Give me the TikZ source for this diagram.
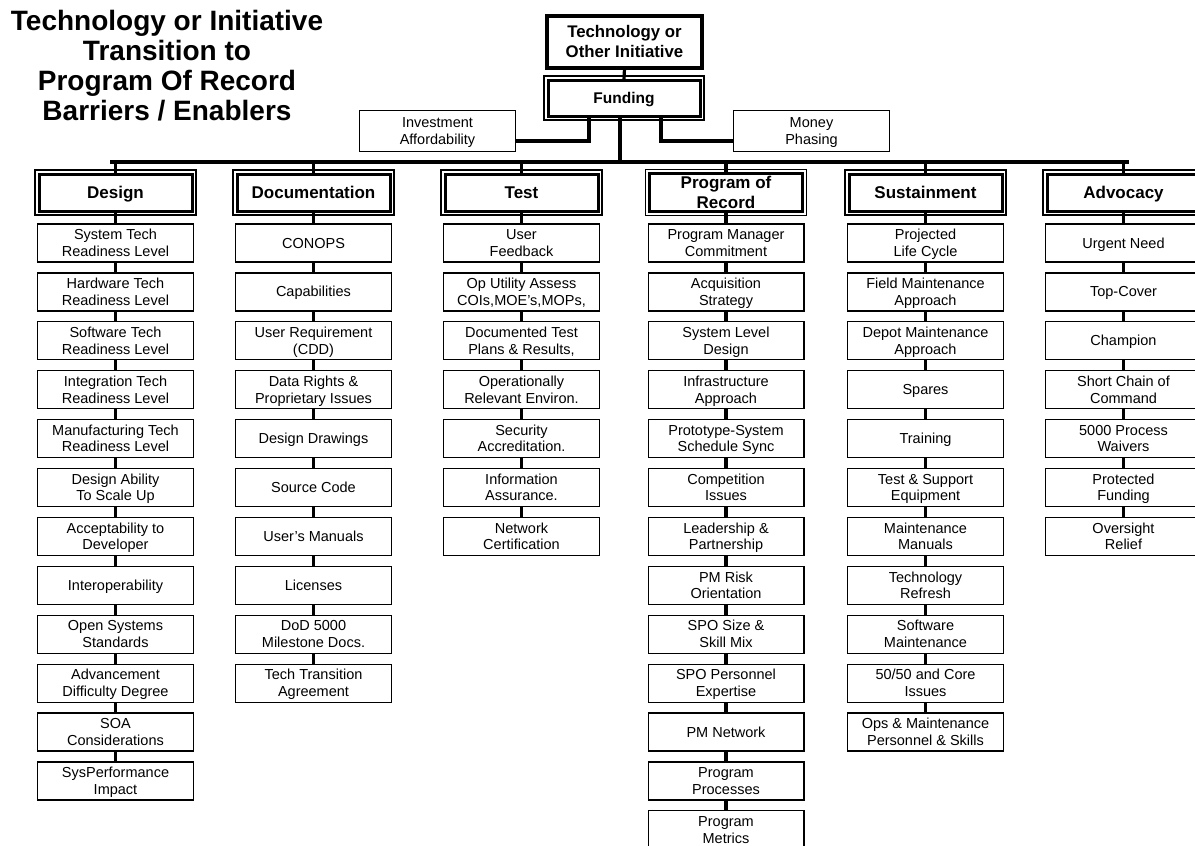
\documentclass[tikz,border=0pt]{standalone}
\usepackage{fontspec}
\setmainfont{Liberation Sans}
\usetikzlibrary{backgrounds}
\newcommand\capstrut{\rule[-0.2em]{0pt}{1.1em}}
\newcommand\st[1]{\capstrut#1\capstrut}
\tikzset{
  item/.style={draw, line width=1.2pt, fill=white, minimum width=155.8pt, minimum height=38pt,
    inner sep=0pt, outer sep=0pt, align=center, font=\fontsize{14.5}{16.6}\selectfont},
  hdr/.style={draw, line width=3pt, fill=white, minimum width=153pt, minimum height=37pt,
    inner sep=0pt, outer sep=0pt, align=center, font=\bfseries\fontsize{17}{18}\selectfont},
  frame/.style={line width=1.2pt},
  conn/.style={line width=3.2pt},
  topbox/.style={draw, line width=4pt, fill=white, minimum width=155pt, minimum height=52pt,
    inner sep=0pt, outer sep=0pt, align=center, font=\bfseries\fontsize{16.8}{20}\selectfont},
}
\newcommand\hdrframe[1]{\draw[frame] ([shift={(-4,-4)}]#1.north west) rectangle ([shift={(4,4)}]#1.south east);}
\newcommand\mycolumn[4]{%
  \node[hdr] (#1h) at (#2,192.5) {\st{#3}};
  \hdrframe{#1h}
  \begin{pgfonlayer}{background}
    \draw[conn] (#1h.north) -- (#1h.north |- bus);
  \end{pgfonlayer}
  \foreach \t [count=\i] in {#4} {
    \node[item] (#1\i) at (#2,{243+(\i-1)*48.9}) {\st{\t}};
    \pgfmathtruncatemacro\j{\i-1}
    \begin{pgfonlayer}{background}
      \ifnum\i=1 \draw[conn] (#1h.south) -- (#1\i.north);
      \else \draw[conn] (#1\j.south) -- (#1\i.north); \fi
    \end{pgfonlayer}
  }
}
\begin{document}
\begin{tikzpicture}[x=1pt,y=-1pt]
\useasboundingbox (0,0) rectangle (1195,846);
\coordinate (bus) at (0,162);

% title
\node[align=center, font=\bfseries\fontsize{28}{30}\selectfont] (title) at (167,66)
  {Technology or Initiative\\Transition to\\Program Of Record\\Barriers / Enablers};

% top
\node[topbox] (top) at (624.5,42) {\st{Technology or\\Other Initiative}};
\node[hdr, minimum width=152pt, minimum height=36pt, font=\bfseries\fontsize{15.5}{18}\selectfont] (fund) at (624,98) {\st{Funding}};
\hdrframe{fund}
\node[item, minimum height=40.8pt] (inv) at (437.5,131) {\st{Investment\\Affordability}};
\node[item, minimum height=40.8pt] (money) at (811.5,131) {\st{Money\\Phasing}};

\begin{pgfonlayer}{background}
  \draw[conn] (top.south) -- (fund.north);
  \draw[conn] ([shift={(-4,0)}]fund.south) -- ([shift={(-4,0)}]fund.south |- bus);
  \draw[conn] ([shift={(-35,0)}]fund.south) |- ([shift={(0,10)}]inv.east);
  \draw[conn] ([shift={(37,0)}]fund.south) |- ([shift={(0,10)}]money.west);
\end{pgfonlayer}

\mycolumn{d}{115.5}{Design}{
  {System Tech\\Readiness Level},
  {Hardware Tech\\Readiness Level},
  {Software Tech\\Readiness Level},
  {Integration Tech\\Readiness Level},
  {Manufacturing Tech\\Readiness Level},
  {Design Ability\\To Scale Up},
  {Acceptability to\\Developer},
  {Interoperability},
  {Open Systems\\Standards},
  {Advancement\\Difficulty Degree},
  {SOA\\Considerations},
  {SysPerformance\\Impact}}
\mycolumn{o}{313.5}{Documentation}{
  {CONOPS},
  {Capabilities},
  {User Requirement\\(CDD)},
  {Data Rights \&\\Proprietary Issues},
  {Design Drawings},
  {Source Code},
  {User’s Manuals},
  {Licenses},
  {DoD 5000\\Milestone Docs.},
  {Tech Transition\\Agreement}}
\mycolumn{t}{521.5}{Test}{
  {User\\Feedback},
  {Op Utility Assess\\COIs,MOE’s,MOPs,},
  {Documented Test\\Plans \& Results,},
  {Operationally\\Relevant Environ.},
  {Security\\Accreditation.},
  {Information\\Assurance.},
  {Network\\Certification}}
\mycolumn{p}{726}{Program of\\Record}{
  {Program Manager\\Commitment},
  {Acquisition\\Strategy},
  {System Level\\Design},
  {Infrastructure\\Approach},
  {Prototype-System\\Schedule Sync},
  {Competition\\Issues},
  {Leadership \&\\Partnership},
  {PM Risk\\Orientation},
  {SPO Size \&\\Skill Mix},
  {SPO Personnel\\Expertise},
  {PM Network},
  {Program\\Processes},
  {Program\\Metrics}}
\mycolumn{s}{925.5}{Sustainment}{
  {Projected\\Life Cycle},
  {Field Maintenance\\Approach},
  {Depot Maintenance\\Approach},
  {Spares},
  {Training},
  {Test \& Support\\Equipment},
  {Maintenance\\Manuals},
  {Technology\\Refresh},
  {Software\\Maintenance},
  {50/50 and Core\\Issues},
  {Ops \& Maintenance\\Personnel \& Skills}}
\mycolumn{a}{1123.5}{Advocacy}{
  {Urgent Need},
  {Top-Cover},
  {Champion},
  {Short Chain of\\Command},
  {5000 Process\\Waivers},
  {Protected\\Funding},
  {Oversight\\Relief}}

\begin{pgfonlayer}{background}
  \draw[conn] ([shift={(-5.5,0)}]dh.north |- bus) -- ([shift={(5.5,0)}]ah.north |- bus);
\end{pgfonlayer}
\end{tikzpicture}
\end{document}
